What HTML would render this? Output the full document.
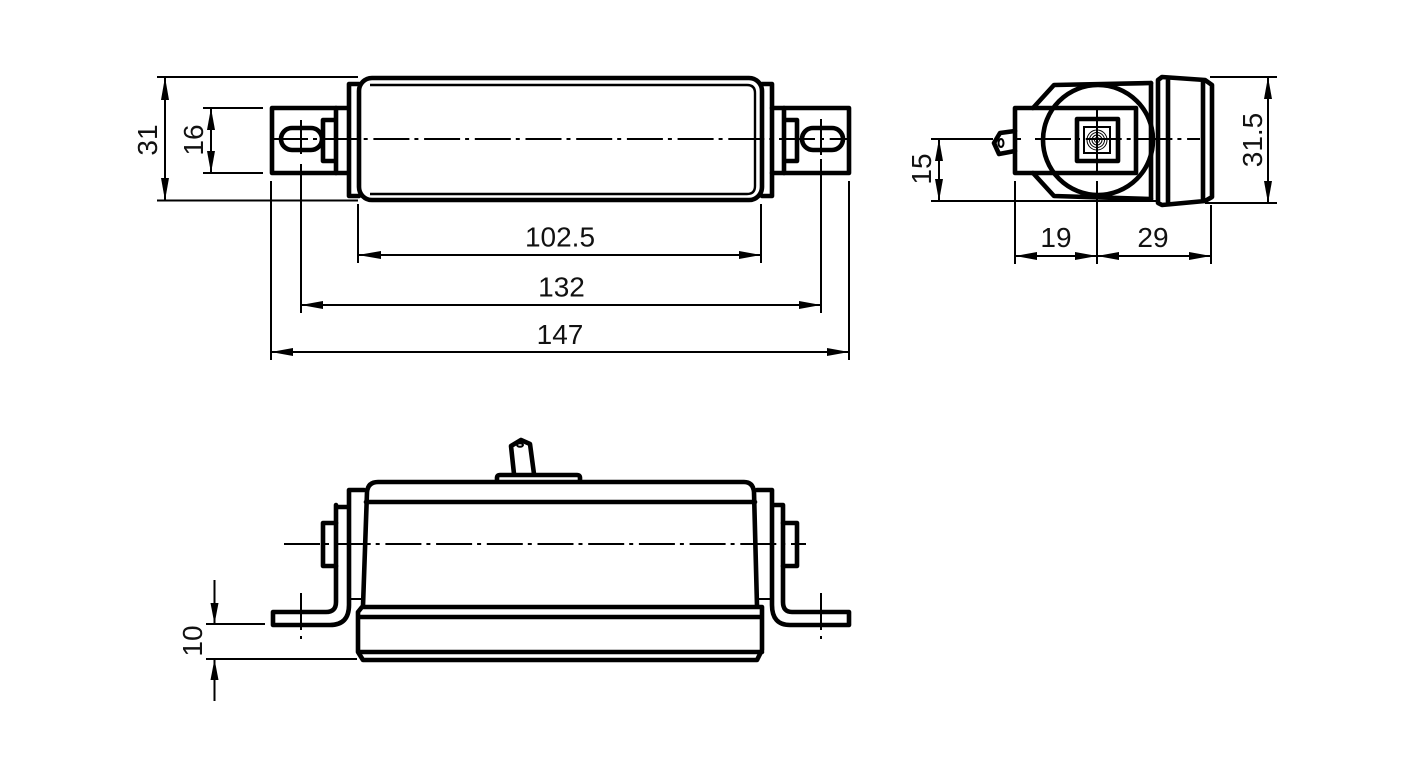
<!DOCTYPE html>
<html><head><meta charset="utf-8"><style>
html,body{margin:0;padding:0;background:#fff}
svg{display:block}
text{font-family:"Liberation Sans",sans-serif;font-size:28px;fill:#111}
.k{stroke:#000;stroke-width:4.6;fill:none;stroke-linejoin:round;stroke-linecap:round}
.t{stroke:#000;stroke-width:2;fill:none}
.c{stroke:#000;stroke-width:2;fill:none;stroke-dasharray:36 5 4 5.7}
.a{fill:#000;stroke:none}
</style></head><body>
<svg width="1417" height="780" viewBox="0 0 1417 780" xmlns="http://www.w3.org/2000/svg">
<!-- TOP VIEW -->
<path class="t" d="M157 77H358M157 200.5H358M203 108H263M203 173H263"/>
<path class="t" d="M165 77V200.5M211 108V173"/>
<polygon class="a" points="165,77 161,100 169,100"/><polygon class="a" points="165,200.5 161,178 169,178"/>
<polygon class="a" points="211,108 207,130 215,130"/><polygon class="a" points="211,173 207,151 215,151"/>
<rect class="k" x="359" y="78" width="403" height="122" rx="13"/>
<path class="t" d="M370 85H747Q755 85 755 93V186Q755 194 747 194H370" style="stroke-width:2.4"/>
<path class="k" d="M359 84H349V196H359M762 84H772V196H762"/>
<path class="k" d="M347 108H272V173H347M772 108H849V173H772"/>
<path class="k" d="M336 108V173M323 120H336V161H323ZM784 108V173M784 120H797V161H784Z"/>
<rect class="k" x="281" y="128" width="41" height="22" rx="11"/>
<rect class="k" x="802" y="128" width="41" height="22" rx="11"/>
<path class="c" d="M272 139H850"/>
<path class="t" d="M301 120V154M301 164V313M821 119V155M821 159V313M271 181V360M849 181V360M358 204V263M761 204V263"/>
<path class="t" d="M358 255H761M301 305H821M271 352H849"/>
<polygon class="a" points="358,255 381,251 381,259"/><polygon class="a" points="761,255 739,251 739,259"/>
<polygon class="a" points="301,305 323,301 323,309"/><polygon class="a" points="821,305 799,301 799,309"/>
<polygon class="a" points="271,352 293,348 293,356"/><polygon class="a" points="849,352 827,348 827,356"/>
<text x="560" y="246.500" text-anchor="middle">102.5</text>
<text x="561.500" y="296.500" text-anchor="middle">132</text>
<text x="560" y="344" text-anchor="middle">147</text>
<text transform="translate(157 140) rotate(-90)" text-anchor="middle">31</text>
<text transform="translate(203 140) rotate(-90)" text-anchor="middle">16</text>
<!-- END VIEW -->
<path class="t" d="M931 139H993M1014 139H1021M931 201H1160M1205 203H1277M1210 77H1277"/>
<path class="k" d="M1033 108L1054 85L1151 83M1033 173L1054 196L1151 199"/>
<circle class="k" cx="1098" cy="140" r="55"/>
<rect class="k" x="1015" y="108" width="121" height="65"/>
<rect class="k" x="1077" y="119" width="41" height="42"/>
<rect class="t" x="1084" y="127" width="26" height="26"/>
<g class="t" style="stroke-width:1"><circle cx="1097" cy="140" r="2.500"/><circle cx="1097" cy="140" r="5"/><circle cx="1097" cy="140" r="7.500"/><circle cx="1097" cy="140" r="10"/></g>
<path class="k" d="M1015 131L1000 133L994 143L999 154L1015 151"/>
<ellipse class="t" cx="1001" cy="143" rx="2.500" ry="4"/>
<path class="k" d="M1151 83V199M1158 80L1162 77L1205 80L1212 85V197L1205 201L1162 205L1158 203ZM1168 78V204M1203 80V201"/>
<path class="c" d="M1035 139H1200"/>
<path class="t" d="M1097 110V172M1097 181V264M1015 181V264M1211 205V264"/>
<path class="t" d="M1015 256H1211M939 139V201M1268 77V203"/>
<polygon class="a" points="1015,256 1037,252 1037,260"/><polygon class="a" points="1097,256 1075,252 1075,260"/>
<polygon class="a" points="1097,256 1119,252 1119,260"/><polygon class="a" points="1211,256 1189,252 1189,260"/>
<polygon class="a" points="939,139 935,161 943,161"/><polygon class="a" points="939,201 935,179 943,179"/>
<polygon class="a" points="1268,77 1264,99 1272,99"/><polygon class="a" points="1268,203 1264,181 1272,181"/>
<text x="1056" y="247" text-anchor="middle">19</text>
<text x="1153" y="247" text-anchor="middle">29</text>
<text transform="translate(931 169) rotate(-90)" text-anchor="middle">15</text>
<text transform="translate(1262 140) rotate(-90)" text-anchor="middle">31.5</text>
<!-- FRONT VIEW -->
<path class="k" d="M363 606L367 492Q368 482 378 482H744Q753 482 754 492L757 606"/>
<path class="k" d="M366 502H755"/>
<path class="k" d="M497 481V478Q497 475 500 475H577Q580 475 580 478V481"/>
<path class="k" d="M514 474L511 446L521 440L530 444L534 474"/>
<ellipse class="t" cx="520" cy="445" rx="3" ry="1.800"/>
<path class="k" d="M349 605V490H364M336 507H349M336 505V602Q336 612 326 612H273V625H330Q349 625 349 605"/>
<path class="k" d="M336 523H323V566H336"/>
<path class="k" d="M772 605V490H757M783 505H772M783 505V602Q783 612 792 612H849V625H790Q772 625 772 605"/>
<path class="k" d="M783 523H797V566H783"/>
<path class="t" d="M351 599H362M757 599H770"/>
<path class="k" d="M362 607H762V650L757 660H363L358 652V612ZM359 617H762M359 652H762"/>
<path class="c" d="M284 544H806"/>
<path class="t" d="M301 593V630M301 636V639M821 593V630M821 636V639"/>
<path class="t" d="M206 624H265M206 659H357M214.500 580V624M214.500 659V701"/>
<polygon class="a" points="214.500,624 210.500,603 218.500,603"/><polygon class="a" points="214.500,659 210.500,680 218.500,680"/>
<text transform="translate(202 641) rotate(-90)" text-anchor="middle">10</text>
</svg>
</body></html>
